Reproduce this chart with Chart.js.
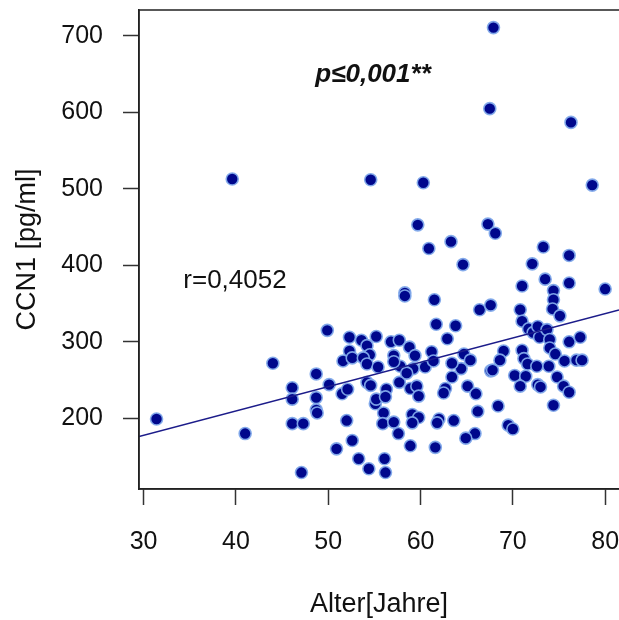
<!DOCTYPE html>
<html><head><meta charset="utf-8">
<script src="https://cdn.jsdelivr.net/npm/chart.js@4.4.0/dist/chart.umd.min.js"></script>
<style>html,body{margin:0;padding:0;background:#fff}#wrap{width:619px;height:620px}</style>
</head><body><div id="wrap"><canvas id="c" width="619" height="620"></canvas></div>
<script>
const ages = [67.9,67.5,76.3,39.6,54.6,60.3,78.6,59.7,67.3,68.1,63.3,60.9,73.3,76.1,64.6,72.1,73.5,76.1,71.0,74.4,80.0,74.4,74.3,75.1,58.3,58.3,61.5,66.4,67.6,70.8,71.0,61.7,63.8,49.9,52.3,55.2,53.6,54.2,56.8,57.7,62.9,52.3,58.8,61.2,54.5,57.1,59.4,51.6,52.6,53.8,54.2,55.4,44.0,48.7,50.1,46.1,46.1,48.7,51.5,52.1,54.2,54.6,55.1,48.7,48.8,31.4,46.1,47.3,52.0,41.0,52.6,50.9,53.3,54.4,47.1,56.1,56.2,56.3,55.2,56.2,57.7,58.9,59.6,59.8,56.0,55.9,57.1,57.6,59.1,59.8,59.1,62.0,61.8,63.6,58.9,61.6,62.7,62.5,64.7,65.4,69.0,68.6,71.0,71.7,72.2,72.7,72.9,73.7,74.0,76.1,77.3,74.0,74.6,75.6,76.9,77.5,71.2,71.6,72.6,73.9,74.8,75.5,76.1,74.4,70.2,71.4,70.8,72.7,73.0,67.6,67.8,68.4,69.5,70.0,66.2,65.9,64.9,65.1,66.0,63.4,64.4,63.4,60.5,59.2,57.8,58.5,57.1,61.4];
const ccn1 = [711,605,587,513,512,508,505,453,454,442,431,422,424,413,401,402,382,377,373,367,369,355,343,334,364,360,355,342,348,342,327,323,321,315,306,307,302,295,300,302,304,288,293,287,283,282,282,275,279,279,271,267,272,258,244,240,225,227,232,238,247,243,219,211,207,199,193,193,197,180,171,160,147,134,129,147,129,238,225,228,247,239,242,229,207,193,195,180,205,201,194,199,194,197,164,162,239,233,284,276,288,276,289,317,312,320,306,316,303,300,306,292,284,275,276,276,278,271,268,268,254,242,234,217,256,255,242,244,241,262,263,216,191,186,209,180,174,242,232,254,265,272,267,265,268,259,274,275];
const fitX = [29.5, 81.5];
const fitY = [176, 341.6];
const xTicks = [30, 40, 50, 60, 70, 80];
const yTicks = [200, 300, 400, 500, 600, 700];
const xTitle = 'Alter[Jahre]';
const yTitle = 'CCN1 [pg/ml]';
const rText = 'r=0,4052';
const rPos = [34.3, 370];
const pText = 'p\u22640,001**';
const pPos = [48.6, 640];

const FONT = "'Liberation Sans', Arial, Helvetica, sans-serif";

const boxPlugin = {
  id: 'box',
  afterDraw(chart) {
    const {ctx, chartArea: a, scales} = chart;
    ctx.save();
    ctx.strokeStyle = '#222';
    ctx.lineWidth = 1.5;
    ctx.strokeRect(a.left, a.top, a.right - a.left + 10, a.bottom - a.top);
    ctx.fillStyle = '#111';
    ctx.textBaseline = 'alphabetic';
    ctx.textAlign = 'left';
    ctx.font = "26px " + FONT;
    ctx.fillText(rText, scales.x.getPixelForValue(rPos[0]), scales.y.getPixelForValue(rPos[1]));
    ctx.font = "italic bold 26px " + FONT;
    ctx.fillText(pText, scales.x.getPixelForValue(pPos[0]), scales.y.getPixelForValue(pPos[1]));
    ctx.restore();
  }
};

new Chart(document.getElementById('c'), {
  data: {
    datasets: [
      {
        type: 'line',
        data: fitX.map((x, i) => ({x, y: fitY[i]})),
        borderColor: '#1c1c8a',
        borderWidth: 1.5,
        pointRadius: 0,
        fill: false,
        order: 0
      },
      {
        type: 'scatter',
        data: ages.map((x, i) => ({x, y: ccn1[i]})),
        backgroundColor: '#00078c',
        borderColor: 'rgba(130,170,235,0.95)',
        borderWidth: 1.6,
        pointRadius: 6,
        order: 1
      }
    ]
  },
  options: {
    responsive: false,
    animation: false,
    devicePixelRatio: 1,
    layout: {autoPadding: false, padding: {top: 10, right: 0, left: 0, bottom: 0}},
    plugins: {legend: {display: false}, tooltip: {enabled: false}},
    scales: {
      x: {
        type: 'linear',
        min: 29.5, max: 81.5,
        afterBuildTicks: s => { s.ticks = xTicks.map(v => ({value: v})); },
        afterFit: s => { s.height = 131; s.paddingLeft = 0; s.paddingRight = 0; },
        grid: {drawOnChartArea: false, drawTicks: true, tickLength: 16, tickWidth: 1.5, tickColor: '#333'},
        border: {display: true, color: '#222', width: 1.5},
        ticks: {font: {family: FONT, size: 25}, color: '#111', padding: 22, maxRotation: 0, autoSkip: false},
        title: {display: true, text: xTitle, font: {family: FONT, size: 27, lineHeight: 1}, color: '#111', padding: {top: 0, bottom: 1.5}}
      },
      y: {
        type: 'linear',
        min: 107.5, max: 734,
        afterBuildTicks: s => { s.ticks = yTicks.map(v => ({value: v})); },
        afterFit: s => { s.width = 139; s.paddingTop = 0; s.paddingBottom = 0; },
        grid: {drawOnChartArea: false, drawTicks: true, tickLength: 16, tickWidth: 1.5, tickColor: '#333'},
        border: {display: true, color: '#222', width: 1.5},
        ticks: {font: {family: FONT, size: 25}, color: '#111', padding: 20, autoSkip: false},
        title: {display: true, text: yTitle, font: {family: FONT, size: 27, lineHeight: 1}, color: '#111', padding: {top: 14.5, bottom: 0}}
      }
    }
  },
  plugins: [boxPlugin]
});
</script>
</body></html>
